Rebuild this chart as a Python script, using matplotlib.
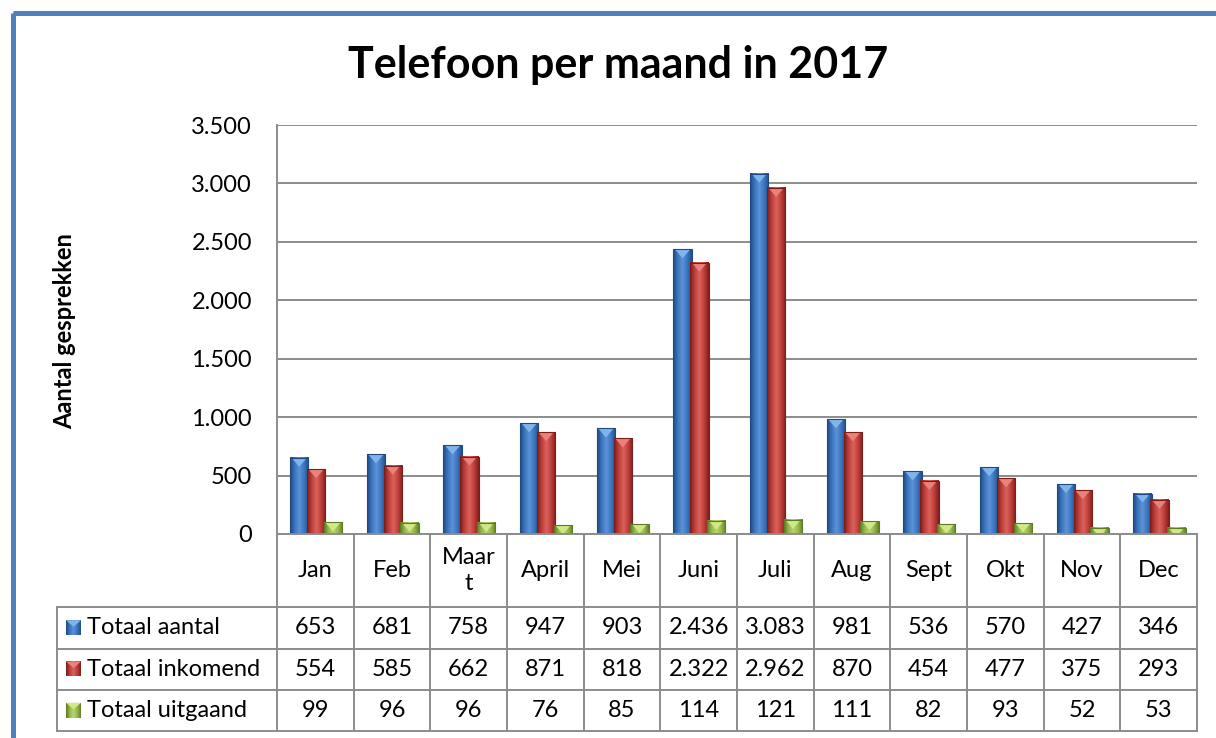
import numpy as np
import matplotlib
matplotlib.use("Agg")
import matplotlib.pyplot as plt
from matplotlib.colors import LinearSegmentedColormap
from matplotlib.patches import Rectangle, Polygon

plt.rcParams['font.family'] = ['Lato', 'DejaVu Sans']

# data
months = ["Jan", "Feb", "Maar\nt", "April", "Mei", "Juni", "Juli", "Aug", "Sept", "Okt", "Nov", "Dec"]
series_names = ["Totaal aantal", "Totaal inkomend", "Totaal uitgaand"]
totaal_aantal = [653, 681, 758, 947, 903, 2436, 3083, 981, 536, 570, 427, 346]
totaal_inkomend = [554, 585, 662, 871, 818, 2322, 2962, 870, 454, 477, 375, 293]
totaal_uitgaand = [99, 96, 96, 76, 85, 114, 121, 111, 82, 93, 52, 53]
yticks = [0, 500, 1000, 1500, 2000, 2500, 3000, 3500]
ytick_labels = ["0", "500", "1.000", "1.500", "2.000", "2.500", "3.000", "3.500"]

series = [totaal_aantal, totaal_inkomend, totaal_uitgaand]

# gradient colours (edge, mid, light, mid, edge) and bevel top colour
grad_cols = [
    ["#1f4a80", "#3c76c0", "#5c93d8", "#3c76c0", "#234f88"],
    ["#7a1e1c", "#bf3f3b", "#da625c", "#bf3f3b", "#821f1d"],
    ["#5f7a22", "#98ba4e", "#b8d66c", "#98ba4e", "#66822a"],
]
top_cols = ["#80b4ec", "#ea827c", "#d0e986"]

W, H = 1216, 738
fs = 17
fig = plt.figure(figsize=(W / 100, H / 100), dpi=100)

# blue frame
frame_ax = fig.add_axes([0, 0, 1, 1])
frame_ax.set_xlim(0, W)
frame_ax.set_ylim(H, 0)
frame_ax.axis("off")
frame_ax.add_patch(Rectangle((12.5, 12.5), W + 20, H + 20, fill=False,
                             edgecolor="#4f81bd", linewidth=3.6))

# plot area
px_left, px_right, px_top, px_bot = 277, 1197, 125, 534
ax = fig.add_axes([px_left / W, (H - px_bot) / H, (px_right - px_left) / W, (px_bot - px_top) / H])
n = len(months)
x = np.arange(n)
offsets = [-0.21, 0.01, 0.23]
bw = 0.24
ymax = 3500
px_per_unit = (px_bot - px_top) / ymax
bevel = 9 / px_per_unit

for s, vals in enumerate(series):
    cmap = LinearSegmentedColormap.from_list("g%d" % s, grad_cols[s])
    grad = np.linspace(0, 1, 64).reshape(1, -1)
    for i, v in enumerate(vals):
        x0 = x[i] + offsets[s] - bw / 2
        x1 = x0 + bw
        ax.imshow(grad, extent=[x0, x1, 0, v], aspect="auto", cmap=cmap, zorder=2 + s)
        rect = Rectangle((x0, 0), bw, v, fill=False, edgecolor=grad_cols[s][0], linewidth=0.8, zorder=2.6 + s)
        ax.add_patch(rect)
        tri = Polygon([(x0 + 0.02, v), (x1 - 0.02, v), ((x0 + x1) / 2, v - bevel)],
                      closed=True, facecolor=top_cols[s], edgecolor="none", zorder=2.5 + s)
        ax.add_patch(tri)
        clip = Rectangle((x0, 0), bw, v, transform=ax.transData)
        tri.set_clip_path(clip)

ax.set_xlim(-0.5, n - 0.5)
ax.set_ylim(0, ymax)
ax.set_yticks(yticks)
ax.set_yticklabels(ytick_labels, fontsize=fs)
ax.set_xticks([])
ax.tick_params(axis="y", length=0, pad=18)
ax.yaxis.grid(True, color="#8c8c8c", linewidth=1.4)
ax.set_axisbelow(True)
for side in ["top", "right", "bottom"]:
    ax.spines[side].set_visible(False)
ax.spines["left"].set_color("#8c8c8c")
ax.spines["left"].set_linewidth(1.4)

# data table below, x shared with bars, y in pixels from top
tax = fig.add_axes([px_left / W, 0, (px_right - px_left) / W, (H - px_bot) / H])
tax.set_xlim(-0.5, n - 0.5)
tax.set_ylim(H, px_bot)
tax.axis("off")
col_w = (px_right - px_left) / n
lab_left = -0.5 - (px_left - 57) / col_w
row_lines = [534, 607, 648.5, 689.5, 731]
lc = "#8c8c8c"
lw = 1.4
for k in range(n + 1):
    tax.plot([k - 0.5, k - 0.5], [row_lines[0], row_lines[-1]], color=lc, lw=lw, clip_on=False)
tax.plot([lab_left, lab_left], [row_lines[1], row_lines[-1]], color=lc, lw=lw, clip_on=False)
tax.plot([-0.5, n - 0.5], [row_lines[0], row_lines[0]], color=lc, lw=lw, clip_on=False)
for yl in row_lines[1:]:
    tax.plot([lab_left, n - 0.5], [yl, yl], color=lc, lw=lw, clip_on=False)

cat_y = (row_lines[0] + row_lines[1]) / 2
for i, m in enumerate(months):
    tax.text(i, cat_y, m, ha="center", va="center", fontsize=fs, linespacing=1.3)

mk = 15
for s, vals in enumerate(series):
    yc = (row_lines[s + 1] + row_lines[s + 2]) / 2
    for i, v in enumerate(vals):
        tax.text(i, yc, f"{v:,}".replace(",", "."), ha="center", va="center", fontsize=fs)
    mx0 = lab_left + 9 / col_w
    cmap = LinearSegmentedColormap.from_list("m%d" % s, grad_cols[s])
    tax.imshow(np.linspace(0, 1, 32).reshape(1, -1), extent=[mx0, mx0 + mk / col_w, yc + mk / 2, yc - mk / 2],
               aspect="auto", cmap=cmap, clip_on=False, zorder=3)
    mtri = Polygon([(mx0, yc - mk / 2), (mx0 + mk / col_w, yc - mk / 2), (mx0 + mk / col_w / 2, yc - 1)],
                   facecolor=top_cols[s], edgecolor="none", clip_on=False, zorder=4)
    tax.add_patch(mtri)
    tax.text(mx0 + (mk + 6) / col_w, yc, series_names[s], ha="left", va="center", fontsize=fs)
tax.set_xlim(-0.5, n - 0.5)
tax.set_ylim(H, px_bot)

fig.text(618 / W, 1 - 65 / H, "Telefoon per maand in 2017", ha="center", va="center",
         fontsize=31, fontweight="bold")
fig.text(65 / W, 1 - 331 / H, "Aantal gesprekken", ha="center", va="center",
         rotation=90, fontsize=17, fontweight="bold")

fig.savefig("out.png", dpi=100)
